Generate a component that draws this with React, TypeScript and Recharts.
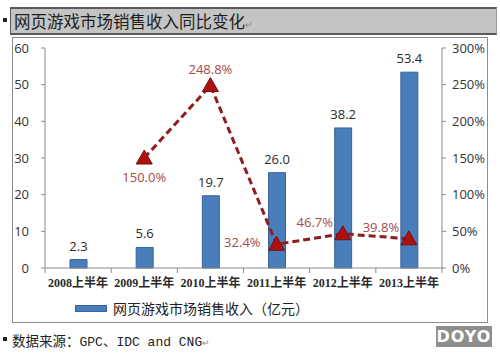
import { Bar, ComposedChart, LabelList, Line, XAxis, YAxis } from "recharts";

const periods = ["2008上半年", "2009上半年", "2010上半年", "2011上半年", "2012上半年", "2013上半年"];
const revenue = [2.3, 5.6, 19.7, 26.0, 38.2, 53.4];
const growth: (number | null)[] = [null, 150.0, 248.8, 32.4, 46.7, 39.8];
const leftTicks = [0, 10, 20, 30, 40, 50, 60];
const rightTicks = [0, 50, 100, 150, 200, 250, 300];

const data = periods.map((p, i) => ({ period: p, revenue: revenue[i], growth: growth[i] }));

const cjk = '"Noto Sans CJK SC", "Noto Sans", sans-serif';
const labelPlace = ["top", "bottom", "top", "left", "topLeft", "topLeft"];

const EdgeTick = (props: any) => {
  const { x, y, payload, index, width, visibleTicksCount } = props;
  const step = width / visibleTicksCount;
  const axisY = y - 9;
  return (
    <g>
      <line x1={x - step / 2} x2={x - step / 2} y1={axisY} y2={axisY + 5} stroke="#8a8a8a" />
      {index === visibleTicksCount - 1 && (
        <line x1={x + step / 2} x2={x + step / 2} y1={axisY} y2={axisY + 5} stroke="#8a8a8a" />
      )}
      <text
        x={x}
        y={y}
        dy="0.8em"
        textAnchor="middle"
        fontSize={12}
        fontWeight={600}
        fill="#2a2a2a"
        fontFamily={'"Liberation Serif", "Noto Sans CJK SC", serif'}
      >
        {payload.value}
      </text>
    </g>
  );
};

const Triangle = (props: any) => {
  const { cx, cy, value } = props;
  if (value == null || cx == null || cy == null) return null;
  return (
    <polygon
      points={`${cx},${cy - 8} ${cx - 8},${cy + 6} ${cx + 8},${cy + 6}`}
      fill="#b01010"
      stroke="#6e1010"
      strokeWidth={1}
    />
  );
};

const GrowthLabel = (props: any) => {
  const { x, y, value, index } = props;
  if (value == null) return null;
  const place = labelPlace[index];
  let dx = 0;
  let dy = 0;
  let anchor: "middle" | "end" = "middle";
  if (place === "top") dy = -15;
  if (place === "bottom") dy = 21;
  if (place === "left") {
    dx = -16;
    dy = -1;
    anchor = "end";
  }
  if (place === "topLeft") {
    dx = -28;
    dy = -10;
  }
  return (
    <text
      x={x + dx}
      y={y + dy}
      textAnchor={anchor}
      dominantBaseline="middle"
      fontSize={13}
      fill="#a84a4a"
      fontFamily='"Open Sans", sans-serif'
    >
      {value.toFixed(1)}%
    </text>
  );
};

const Bullet = ({ left, top }: { left: number; top: number }) => (
  <div style={{ position: "absolute", left, top, width: 4, height: 4, background: "#222" }} />
);

export default function App() {
  return (
    <div style={{ position: "absolute", left: 0, top: 0, width: 500, height: 353, background: "#fff", overflow: "hidden" }}>
      <Bullet left={3} top={18} />
      <div
        style={{
          position: "absolute",
          left: 10,
          top: 7,
          width: 482,
          height: 24,
          background: "#c4c4c4",
          borderTop: "2px solid #5a5a5a",
          borderBottom: "2px solid #5a5a5a",
          borderLeft: "1px solid #5a5a5a",
          borderRight: "1px solid #9a9a9a",
          fontFamily: cjk,
          fontSize: 16.5,
          lineHeight: "24px",
          color: "#1e1e1e",
          paddingLeft: 3,
          boxSizing: "content-box",
        }}
      >
        网页游戏市场销售收入同比变化<span style={{ fontSize: 9, color: "#888" }}>↵</span>
      </div>
      <div
        style={{
          position: "absolute",
          left: 12,
          top: 37,
          width: 474,
          height: 284,
          border: "1px solid #8c8c8c",
        }}
      />
      <div style={{ position: "absolute", left: 0, top: 0 }}>
        <ComposedChart width={500} height={353} data={data} margin={{ top: 48, right: 13, left: 15, bottom: 55 }}>
          <XAxis
            dataKey="period"
            height={30}
            tickLine={false}
            tickSize={5}
            tickMargin={4}
            stroke="#8a8a8a"
            tick={<EdgeTick />}
            interval={0}
          />
          <YAxis
            yAxisId="left"
            width={30}
            domain={[0, 60]}
            ticks={leftTicks}
            tickSize={4}
            tickMargin={12}
            stroke="#8a8a8a"
            tick={{ fill: "#333", fontSize: 13, fontFamily: '"Open Sans", sans-serif' }}
          />
          <YAxis
            yAxisId="right"
            orientation="right"
            width={45}
            domain={[0, 300]}
            ticks={rightTicks}
            tickFormatter={(v: number) => `${v}%`}
            tickSize={4}
            tickMargin={6}
            stroke="#8a8a8a"
            tick={{ fill: "#333", fontSize: 13, fontFamily: '"Open Sans", sans-serif', textAnchor: "start" }}
          />
          <Bar
            yAxisId="left"
            dataKey="revenue"
            barSize={17}
            fill="#4a7ebb"
            stroke="#36649b"
            strokeWidth={1}
            isAnimationActive={false}
          >
            <LabelList
              dataKey="revenue"
              position="top"
              offset={9}
              formatter={(v: any) => Number(v).toFixed(1)}
              style={{ fill: "#2a2a2a", fontSize: 13, fontFamily: '"Open Sans", sans-serif' }}
            />
          </Bar>
          <Line
            yAxisId="right"
            dataKey="growth"
            stroke="#8e1d1d"
            strokeWidth={3}
            strokeDasharray="7 4"
            dot={<Triangle />}
            activeDot={false}
            label={<GrowthLabel />}
            isAnimationActive={false}
          />
        </ComposedChart>
      </div>
      <div style={{ position: "absolute", left: 75, top: 305, width: 32, height: 7, background: "#4a7ebb", border: "1px solid #36649b", boxSizing: "border-box" }} />
      <div style={{ position: "absolute", left: 113, top: 298, fontFamily: cjk, fontSize: 14, lineHeight: "20px", color: "#222" }}>
        网页游戏市场销售收入（亿元）
      </div>
      <Bullet left={3} top={337} />
      <div style={{ position: "absolute", left: 12, top: 330, fontFamily: cjk, fontSize: 13.5, lineHeight: "20px", color: "#222" }}>
        数据来源：
        <span style={{ fontFamily: '"Liberation Mono", monospace', fontSize: 13 }}>GPC</span>、
        <span style={{ fontFamily: '"Liberation Mono", monospace', fontSize: 13 }}>IDC and CNG</span>
        <span style={{ fontSize: 9, color: "#888" }}>↵</span>
      </div>
      <div
        style={{
          position: "absolute",
          left: 436,
          top: 326,
          width: 56,
          height: 21,
          background: "#8e8e8e",
          color: "#fff",
          fontFamily: '"DejaVu Sans", sans-serif',
          fontWeight: 700,
          fontSize: 16,
          lineHeight: "21px",
          textAlign: "center",
          letterSpacing: 1,
        }}
      >
        DOYO
      </div>
    </div>
  );
}
